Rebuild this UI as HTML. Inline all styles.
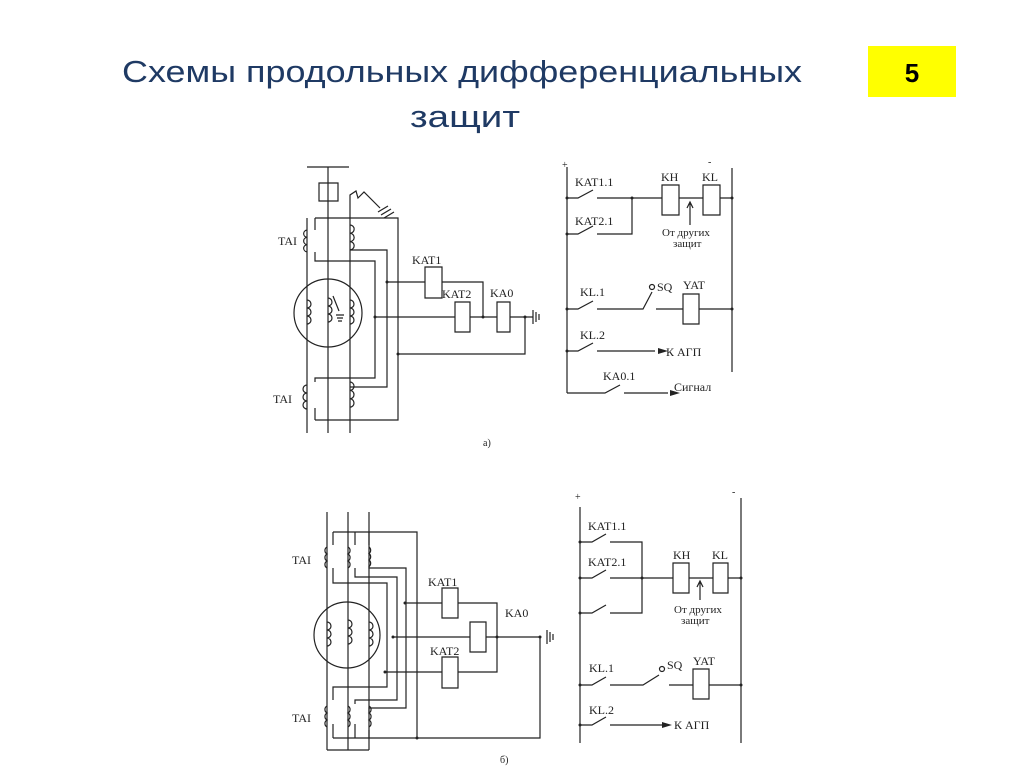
<!DOCTYPE html>
<html><head><meta charset="utf-8"><style>
body{margin:0;background:#fff}
svg{display:block}
text{font-family:"Liberation Serif",serif;fill:#222}
.t{font-family:"Liberation Sans","DejaVu Sans",sans-serif;fill:#1f3a64;font-size:31px}
</style></head><body>
<svg width="1024" height="767" viewBox="0 0 1024 767" xmlns="http://www.w3.org/2000/svg">
<text class="t" x="122" y="82" textLength="680" lengthAdjust="spacingAndGlyphs">Схемы продольных дифференциальных</text>
<text class="t" x="410" y="127" textLength="110" lengthAdjust="spacingAndGlyphs">защит</text>
<rect x="868" y="46" width="88" height="51" fill="#ffff00"/>
<text x="912" y="82" text-anchor="middle" style="font-family:'Liberation Sans',sans-serif;font-weight:bold;font-size:26px;fill:#000">5</text>

<g stroke="#222" stroke-width="1.2" fill="none">
<!-- TOP LEFT -->
<path d="M307 167H349M328 167V433M319 183h19v18h-19z"/>
<path d="M307 218V433M350 433V222V195l6-4 2 7 6-6 16 16"/>
<path d="M378 212l10-6M381 215l10-6M384 218l10-6"/>
<path d="M315 218H398V420H315"/>
<path d="M315 218V230M315 252V261H375V378H315V382M315 408V420"/>
<path d="M350 250H387V387H350"/>
<path d="M307 230a4 3.7 0 0 0 0 7.3a4 3.7 0 0 0 0 7.3a4 3.7 0 0 0 0 7.3"/>
<path d="M350 225a4 4 0 0 1 0 8.3a4 4 0 0 1 0 8.3a4 4 0 0 1 0 8.3"/>
<path d="M307 385a4 4 0 0 0 0 8a4 4 0 0 0 0 8a4 4 0 0 0 0 8"/>
<path d="M350 382a4 4.2 0 0 1 0 8.4a4 4.2 0 0 1 0 8.4a4 4.2 0 0 1 0 8.4"/>
<circle cx="328" cy="313" r="34"/>
<path d="M307 300a4 4 0 0 1 0 8a4 4 0 0 1 0 8a4 4 0 0 1 0 8"/>
<path d="M328 298a4 4 0 0 1 0 8a4 4 0 0 1 0 8a4 4 0 0 1 0 8"/>
<path d="M350 300a4 4 0 0 1 0 8a4 4 0 0 1 0 8a4 4 0 0 1 0 8"/>
<path d="M333 296l6 15M336 315h8M337 318h6M338 321h4"/>
<path d="M387 282H425M425 267h17v31h-17zM442 282H483V317"/>
<path d="M375 317H455M455 302h15v30h-15zM470 317H497M497 302h13v30h-13zM510 317H533"/>
<path d="M533 310v14M536 312v10M539 314v6M525 317V354H398"/>
<!-- TOP RIGHT -->
<path d="M567 167V393M732 168V372"/>
<path d="M567 198H578L593 190M597 198H662M662 185h17v30h-17zM679 198H703M703 185h17v30h-17zM720 198H732"/>
<path d="M632 198V234H597M593 226L578 234H567"/>
<path d="M690 225V203M687 208l3-6 3 6"/>
<path d="M567 309H578L593 301M597 309H643L652 292M656 309H683M683 294h16v30h-16zM699 309H732"/>
<circle cx="652" cy="287" r="2.5"/>
<path d="M567 351H578L593 343M597 351H655"/>
<path d="M567 393H605L620 385M624 393H668"/>
<!-- BOTTOM LEFT -->
<path d="M327 512V750M348 512V750M369 512V750M327 750H369"/>
<path d="M333 532H417V738M333 738H540V637M393 637H470M486 637H540"/>
<path d="M333 532V545M333 568V583H387V687H333V700M333 724V738"/>
<path d="M355 532V545M355 568V577H397V700H355V704M355 724V738"/>
<path d="M369 532V545M369 566V568H406V708H369V712M369 730V738"/>
<path d="M327 547a4 4 0 0 0 0 7a4 4 0 0 0 0 7a4 4 0 0 0 0 7"/>
<path d="M348 547a4 4 0 0 1 0 7a4 4 0 0 1 0 7a4 4 0 0 1 0 7"/>
<path d="M369 547a4 4 0 0 1 0 6.5a4 4 0 0 1 0 6.5a4 4 0 0 1 0 6.5"/>
<path d="M327 706a4 4 0 0 0 0 7a4 4 0 0 0 0 7a4 4 0 0 0 0 7"/>
<path d="M348 706a4 4 0 0 1 0 7a4 4 0 0 1 0 7a4 4 0 0 1 0 7"/>
<path d="M369 706a4 4 0 0 1 0 7a4 4 0 0 1 0 7a4 4 0 0 1 0 7"/>
<circle cx="347" cy="635" r="33"/>
<path d="M327 622a4 4 0 0 1 0 8a4 4 0 0 1 0 8a4 4 0 0 1 0 8"/>
<path d="M348 620a4 4 0 0 1 0 8a4 4 0 0 1 0 8a4 4 0 0 1 0 8"/>
<path d="M369 622a4 4 0 0 1 0 8a4 4 0 0 1 0 8a4 4 0 0 1 0 8"/>
<path d="M405 603H442M442 588h16v30h-16zM458 603H497V672H458M442 657h16v31h-16zM442 672H385"/>
<path d="M470 622h16v30h-16z"/>
<path d="M547 630v14M550 632v10M553 634v6"/>
<!-- BOTTOM RIGHT -->
<path d="M580 507V743M741 498V743"/>
<path d="M580 542H592L606 534M610 542H642V613H610M606 605L592 613H580"/>
<path d="M580 578H592L606 570M610 578H673M673 563h16v30h-16zM689 578H713M713 563h15v30h-15zM728 578H741"/>
<path d="M700 600V582M697 587l3-6 3 6"/>
<path d="M580 685H592L606 677M610 685H643L659 675M669 685H693M693 669h16v30h-16zM709 685H741"/>
<circle cx="662" cy="669" r="2.5"/>
<path d="M580 725H592L606 717M610 725H668"/>
</g>
<g fill="#222">
<path d="M668 351l-10-3v6zM680 393l-10-3v6zM672 725l-10-3v6z"/>
<circle cx="567" cy="198" r="1.5"/><circle cx="567" cy="234" r="1.5"/><circle cx="567" cy="309" r="1.5"/><circle cx="567" cy="351" r="1.5"/><circle cx="732" cy="198" r="1.5"/><circle cx="732" cy="309" r="1.5"/><circle cx="632" cy="198" r="1.5"/>
<circle cx="580" cy="542" r="1.5"/><circle cx="580" cy="578" r="1.5"/><circle cx="580" cy="613" r="1.5"/><circle cx="580" cy="685" r="1.5"/><circle cx="580" cy="725" r="1.5"/><circle cx="741" cy="578" r="1.5"/><circle cx="741" cy="685" r="1.5"/><circle cx="642" cy="578" r="1.5"/>
<circle cx="387" cy="282" r="1.5"/><circle cx="375" cy="317" r="1.5"/><circle cx="398" cy="354" r="1.5"/><circle cx="483" cy="317" r="1.5"/><circle cx="525" cy="317" r="1.5"/>
<circle cx="405" cy="603" r="1.5"/><circle cx="393" cy="637" r="1.5"/><circle cx="385" cy="672" r="1.5"/><circle cx="497" cy="637" r="1.5"/><circle cx="540" cy="637" r="1.5"/><circle cx="417" cy="738" r="1.5"/>
</g>
<g font-size="12">
<text x="278" y="245">TAI</text><text x="273" y="403">TAI</text>
<text x="412" y="264">KAT1</text><text x="442" y="298">KAT2</text><text x="490" y="297">KA0</text>
<text x="483" y="446" font-size="10">а)</text>
<text x="575" y="186">KAT1.1</text><text x="575" y="225">KAT2.1</text>
<text x="661" y="181">KH</text><text x="702" y="181">KL</text>
<text x="662" y="236" font-size="11">От других</text><text x="673" y="247" font-size="11">защит</text>
<text x="580" y="296">KL.1</text><text x="657" y="291">SQ</text><text x="683" y="289">YAT</text>
<text x="580" y="339">KL.2</text><text x="666" y="356">К АГП</text>
<text x="603" y="380">KA0.1</text><text x="674" y="391">Сигнал</text>
<text x="562" y="168" font-size="10">+</text><text x="708" y="165" font-size="10">-</text>
<text x="292" y="564">TAI</text><text x="292" y="722">TAI</text>
<text x="428" y="586">KAT1</text><text x="505" y="617">KA0</text><text x="430" y="655">KAT2</text>
<text x="500" y="763" font-size="10">б)</text>
<text x="588" y="530">KAT1.1</text><text x="588" y="566">KAT2.1</text>
<text x="673" y="559">KH</text><text x="712" y="559">KL</text>
<text x="674" y="613" font-size="11">От других</text><text x="681" y="624" font-size="11">защит</text>
<text x="589" y="672">KL.1</text><text x="667" y="669">SQ</text><text x="693" y="665">YAT</text>
<text x="589" y="714">KL.2</text><text x="674" y="729">К АГП</text>
<text x="575" y="500" font-size="10">+</text><text x="732" y="495" font-size="10">-</text>
</g>
</svg>
</body></html>
